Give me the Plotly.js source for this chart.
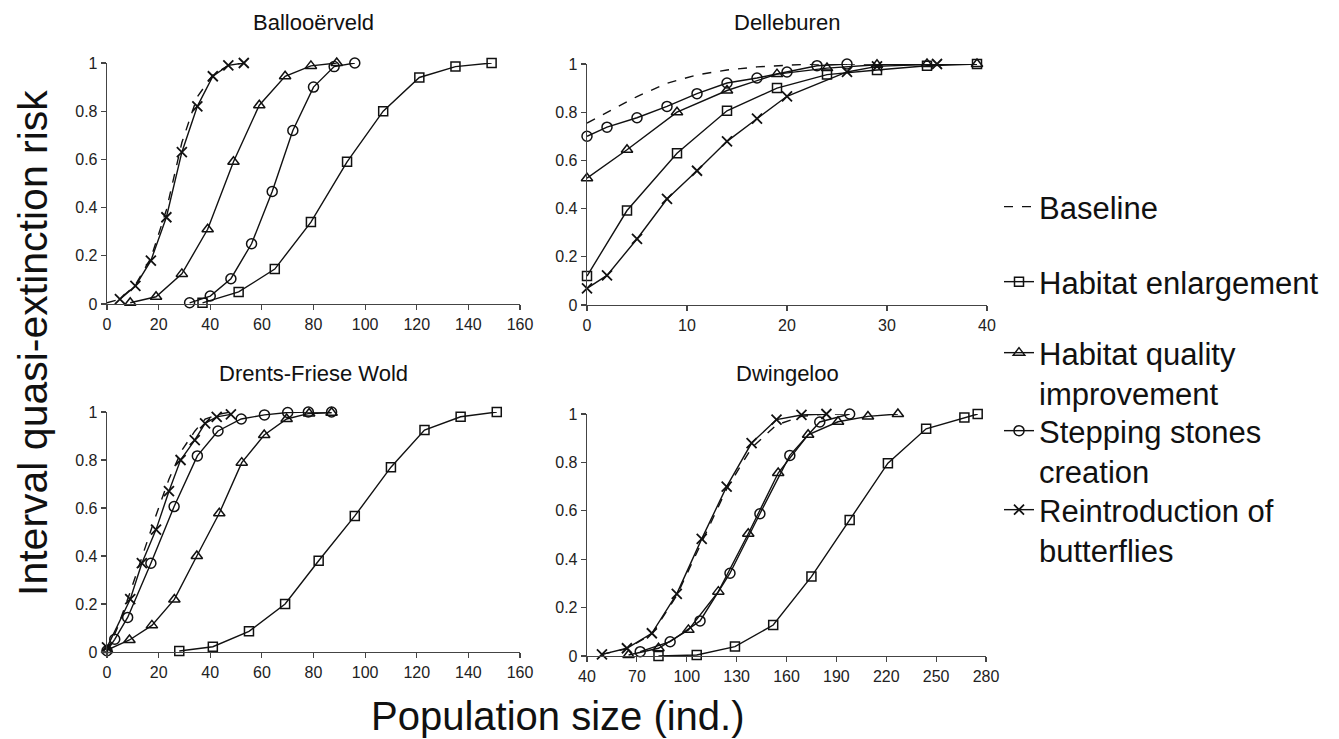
<!DOCTYPE html>
<html>
<head>
<meta charset="utf-8">
<script src="https://cdn.plot.ly/plotly-3.0.1.min.js"></script>
<style>html,body{margin:0;padding:0;background:#fff;}#chart{width:1339px;height:739px;}</style>
</head>
<body>
<div id="chart"></div>
<script>
// ---------- data ----------
const seriesNames = ["Baseline", "Habitat enlargement", "Habitat quality<br>improvement", "Stepping stones<br>creation", "Reintroduction of<br>butterflies"];
const panelTitles = ["Ballooërveld", "Delleburen", "Drents-Friese Wold", "Dwingeloo"];
const yTickVals = [0, 0.2, 0.4, 0.6, 0.8, 1];
const yTickText = ["0", "0.2", "0.4", "0.6", "0.8", "1"];

// Ballooërveld
const b_base_x = [0, 5, 11, 17, 23, 29, 35, 41, 47, 53];
const b_base_y = [0.005, 0.02, 0.08, 0.19, 0.39, 0.67, 0.86, 0.95, 0.99, 1.0];
const b_enl_x = [37, 51, 65, 79, 93, 107, 121, 135, 149];
const b_enl_y = [0.005, 0.05, 0.145, 0.34, 0.59, 0.80, 0.94, 0.985, 1.0];
const b_qual_x = [9, 19, 29, 39, 49, 59, 69, 79, 89];
const b_qual_y = [0.005, 0.03, 0.125, 0.31, 0.59, 0.825, 0.945, 0.988, 1.0];
const b_step_x = [32, 40, 48, 56, 64, 72, 80, 88, 96];
const b_step_y = [0.005, 0.033, 0.105, 0.25, 0.467, 0.72, 0.90, 0.985, 1.0];
const b_rein_x = [5, 11, 17, 23, 29, 35, 41, 47, 53];
const b_rein_y = [0.02, 0.075, 0.18, 0.36, 0.63, 0.82, 0.945, 0.99, 1.0];

// Delleburen
const d_base_x = [0, 2, 5, 8, 11, 14, 17, 20, 23, 26, 29, 34, 39];
const d_base_y = [0.755, 0.80, 0.865, 0.92, 0.955, 0.975, 0.988, 0.995, 1.0, 1.0, 1.0, 1.0, 1.0];
const d_enl_x = [0, 4, 9, 14, 19, 24, 29, 34, 39];
const d_enl_y = [0.12, 0.392, 0.63, 0.806, 0.90, 0.956, 0.975, 0.993, 1.0];
const d_qual_x = [0, 4, 9, 14, 19, 24, 29, 34, 39];
const d_qual_y = [0.526, 0.644, 0.80, 0.89, 0.958, 0.983, 0.997, 1.0, 1.0];
const d_step_x = [0, 2, 5, 8, 11, 14, 17, 20, 23, 26];
const d_step_y = [0.70, 0.738, 0.777, 0.824, 0.877, 0.921, 0.942, 0.967, 0.993, 1.0];
const d_rein_x = [0, 2, 5, 8, 11, 14, 17, 20, 26, 29, 35];
const d_rein_y = [0.069, 0.123, 0.274, 0.44, 0.557, 0.679, 0.773, 0.866, 0.967, 0.99, 1.0];

// Drents-Friese Wold
const f_base_x = [0, 4, 9, 14, 19, 24, 29, 34, 38, 43, 48];
const f_base_y = [0.0, 0.1, 0.25, 0.41, 0.57, 0.72, 0.84, 0.92, 0.97, 0.99, 1.0];
const f_enl_x = [28, 41, 55, 69, 82, 96, 110, 123, 137, 151];
const f_enl_y = [0.004, 0.022, 0.086, 0.20, 0.38, 0.567, 0.77, 0.925, 0.98, 1.0];
const f_qual_x = [0, 8.7, 17.4, 26.1, 34.8, 43.5, 52.2, 60.9, 69.6, 78.3, 87];
const f_qual_y = [0.008, 0.05, 0.111, 0.219, 0.40, 0.578, 0.789, 0.904, 0.971, 0.994, 0.997];
const f_step_x = [0, 3, 8, 17, 26, 35, 43, 52, 61, 70, 78, 87];
const f_step_y = [0.005, 0.053, 0.144, 0.37, 0.606, 0.817, 0.921, 0.971, 0.988, 0.998, 1.0, 1.0];
const f_rein_x = [0, 9, 13.5, 19, 24, 28.5, 34, 38, 42.5, 48];
const f_rein_y = [0.019, 0.22, 0.37, 0.51, 0.67, 0.80, 0.883, 0.953, 0.98, 0.99];

// Dwingeloo
const w_base_x = [49, 64, 79, 94, 109, 124, 139, 154, 169, 184, 199];
const w_base_y = [0.007, 0.03, 0.09, 0.25, 0.47, 0.69, 0.86, 0.955, 0.99, 1.0, 1.0];
const w_enl_x = [83, 106, 129, 152, 175, 198, 221, 244, 267, 275];
const w_enl_y = [0.0, 0.004, 0.039, 0.128, 0.328, 0.562, 0.797, 0.939, 0.986, 1.0];
const w_qual_x = [65, 83, 101, 119, 137, 155, 173, 191, 209, 227];
const w_qual_y = [0.004, 0.032, 0.108, 0.266, 0.505, 0.756, 0.914, 0.968, 0.99, 1.0];
const w_step_x = [72, 90, 108, 126, 144, 162, 180, 198];
const w_step_y = [0.018, 0.059, 0.145, 0.342, 0.588, 0.829, 0.967, 1.0];
const w_rein_x = [49, 64, 79, 94, 109, 124, 139, 154, 169, 184];
const w_rein_y = [0.007, 0.032, 0.094, 0.257, 0.484, 0.70, 0.88, 0.977, 0.996, 1.0];

// ---------- build ----------
const W = 1339, H = 739;
const FONT = "Liberation Sans, Arial, Helvetica, sans-serif";
const INK = "#111";

const panels = [
  {xa: "x",  ya: "y",  data: [[b_base_x,b_base_y],[b_enl_x,b_enl_y],[b_qual_x,b_qual_y],[b_step_x,b_step_y],[b_rein_x,b_rein_y]]},
  {xa: "x2", ya: "y2", data: [[d_base_x,d_base_y],[d_enl_x,d_enl_y],[d_qual_x,d_qual_y],[d_step_x,d_step_y],[d_rein_x,d_rein_y]]},
  {xa: "x3", ya: "y3", data: [[f_base_x,f_base_y],[f_enl_x,f_enl_y],[f_qual_x,f_qual_y],[f_step_x,f_step_y],[f_rein_x,f_rein_y]]},
  {xa: "x4", ya: "y4", data: [[w_base_x,w_base_y],[w_enl_x,w_enl_y],[w_qual_x,w_qual_y],[w_step_x,w_step_y],[w_rein_x,w_rein_y]]}
];

const styles = [
  {mode: "lines", line: {color: INK, width: 1.4, dash: "dash"}},
  {mode: "lines+markers", line: {color: INK, width: 1.4}, marker: {symbol: "square-open", size: 9, color: INK, line: {color: INK, width: 1.5}}},
  {mode: "lines+markers", line: {color: INK, width: 1.4}, marker: {symbol: "triangle-up-open", size: 10, color: INK, line: {color: INK, width: 1.5}}},
  {mode: "lines+markers", line: {color: INK, width: 1.4}, marker: {symbol: "circle-open", size: 10, color: INK, line: {color: INK, width: 1.5}}},
  {mode: "lines+markers", line: {color: INK, width: 1.4}, marker: {symbol: "x-thin-open", size: 10, color: INK, line: {color: INK, width: 1.8}}}
];
const legendIds = ["legend", "legend2", "legend3", "legend4", "legend5"];

const traces = [];
panels.forEach((p, pi) => {
  p.data.forEach((d, si) => {
    const t = Object.assign({
      type: "scatter",
      x: d[0], y: d[1],
      xaxis: p.xa, yaxis: p.ya,
      name: seriesNames[si],
      showlegend: pi === 0,
      legend: legendIds[si],
      cliponaxis: false,
      hoverinfo: "skip"
    }, JSON.parse(JSON.stringify(styles[si])));
    traces.push(t);
  });
});

function xd(a, b) { return [a / W, b / W]; }
function yd(top, bottom) { return [1 - bottom / H, 1 - top / H]; }

const axBase = {
  showline: true, linecolor: "#444", linewidth: 1.3,
  ticks: "outside", ticklen: 5, tickwidth: 1.2, tickcolor: "#444",
  showgrid: false, zeroline: false, fixedrange: true,
  tickfont: {family: FONT, size: 16, color: "#222"}
};
function xax(dom, range, dtick, anchor) {
  return Object.assign({}, axBase, {domain: dom, range: range, dtick: dtick, tick0: range[0], anchor: anchor});
}
function yax(dom, anchor) {
  return Object.assign({}, axBase, {domain: dom, range: [0, 1], tickvals: yTickVals, ticktext: yTickText, anchor: anchor});
}

const legBase = {
  font: {family: FONT, size: 31, color: INK},
  bgcolor: "rgba(0,0,0,0)", borderwidth: 0,
  itemwidth: 30, xanchor: "left", yanchor: "top", valign: "top",
  itemclick: false, itemdoubleclick: false
};
function leg(xpx, ypx) { return Object.assign({}, legBase, {x: xpx / W, y: 1 - ypx / H}); }

const titleFont = {family: FONT, size: 22, color: INK};
const layout = {
  width: W, height: H,
  margin: {l: 0, r: 0, t: 0, b: 0},
  paper_bgcolor: "#fff", plot_bgcolor: "rgba(0,0,0,0)",
  showlegend: true,
  xaxis:  xax(xd(107, 520), [0, 160], 20, "y"),
  yaxis:  yax(yd(63, 304), "x"),
  xaxis2: xax(xd(587, 987), [0, 40], 10, "y2"),
  yaxis2: yax(yd(64, 305), "x2"),
  xaxis3: xax(xd(107, 520), [0, 160], 20, "y3"),
  yaxis3: yax(yd(412, 652), "x3"),
  xaxis4: xax(xd(587, 986), [40, 280], 30, "y4"),
  yaxis4: yax(yd(414, 656), "x4"),
  legend:  leg(999, 180),
  legend2: leg(999, 255),
  legend3: leg(999, 326),
  legend4: leg(999, 404),
  legend5: leg(999, 483),
  annotations: [
    {text: panelTitles[0], xref: "paper", yref: "paper", x: 313 / W, y: 1 - 22 / H, showarrow: false, xanchor: "center", yanchor: "middle", font: titleFont},
    {text: panelTitles[1], xref: "paper", yref: "paper", x: 787 / W, y: 1 - 22 / H, showarrow: false, xanchor: "center", yanchor: "middle", font: titleFont},
    {text: panelTitles[2], xref: "paper", yref: "paper", x: 313 / W, y: 1 - 373 / H, showarrow: false, xanchor: "center", yanchor: "middle", font: titleFont},
    {text: panelTitles[3], xref: "paper", yref: "paper", x: 787 / W, y: 1 - 373 / H, showarrow: false, xanchor: "center", yanchor: "middle", font: titleFont},
    {text: "Interval quasi-extinction risk", xref: "paper", yref: "paper", x: 33 / W, y: 1 - 343 / H, showarrow: false, textangle: -90, xanchor: "center", yanchor: "middle", font: {family: FONT, size: 41, color: INK}},
    {text: "Population size (ind.)", xref: "paper", yref: "paper", x: 558 / W, y: 1 - 716 / H, showarrow: false, xanchor: "center", yanchor: "middle", font: {family: FONT, size: 40, color: INK}}
  ]
};

Plotly.newPlot("chart", traces, layout, {displayModeBar: false, staticPlot: true});
</script>
</body>
</html>
